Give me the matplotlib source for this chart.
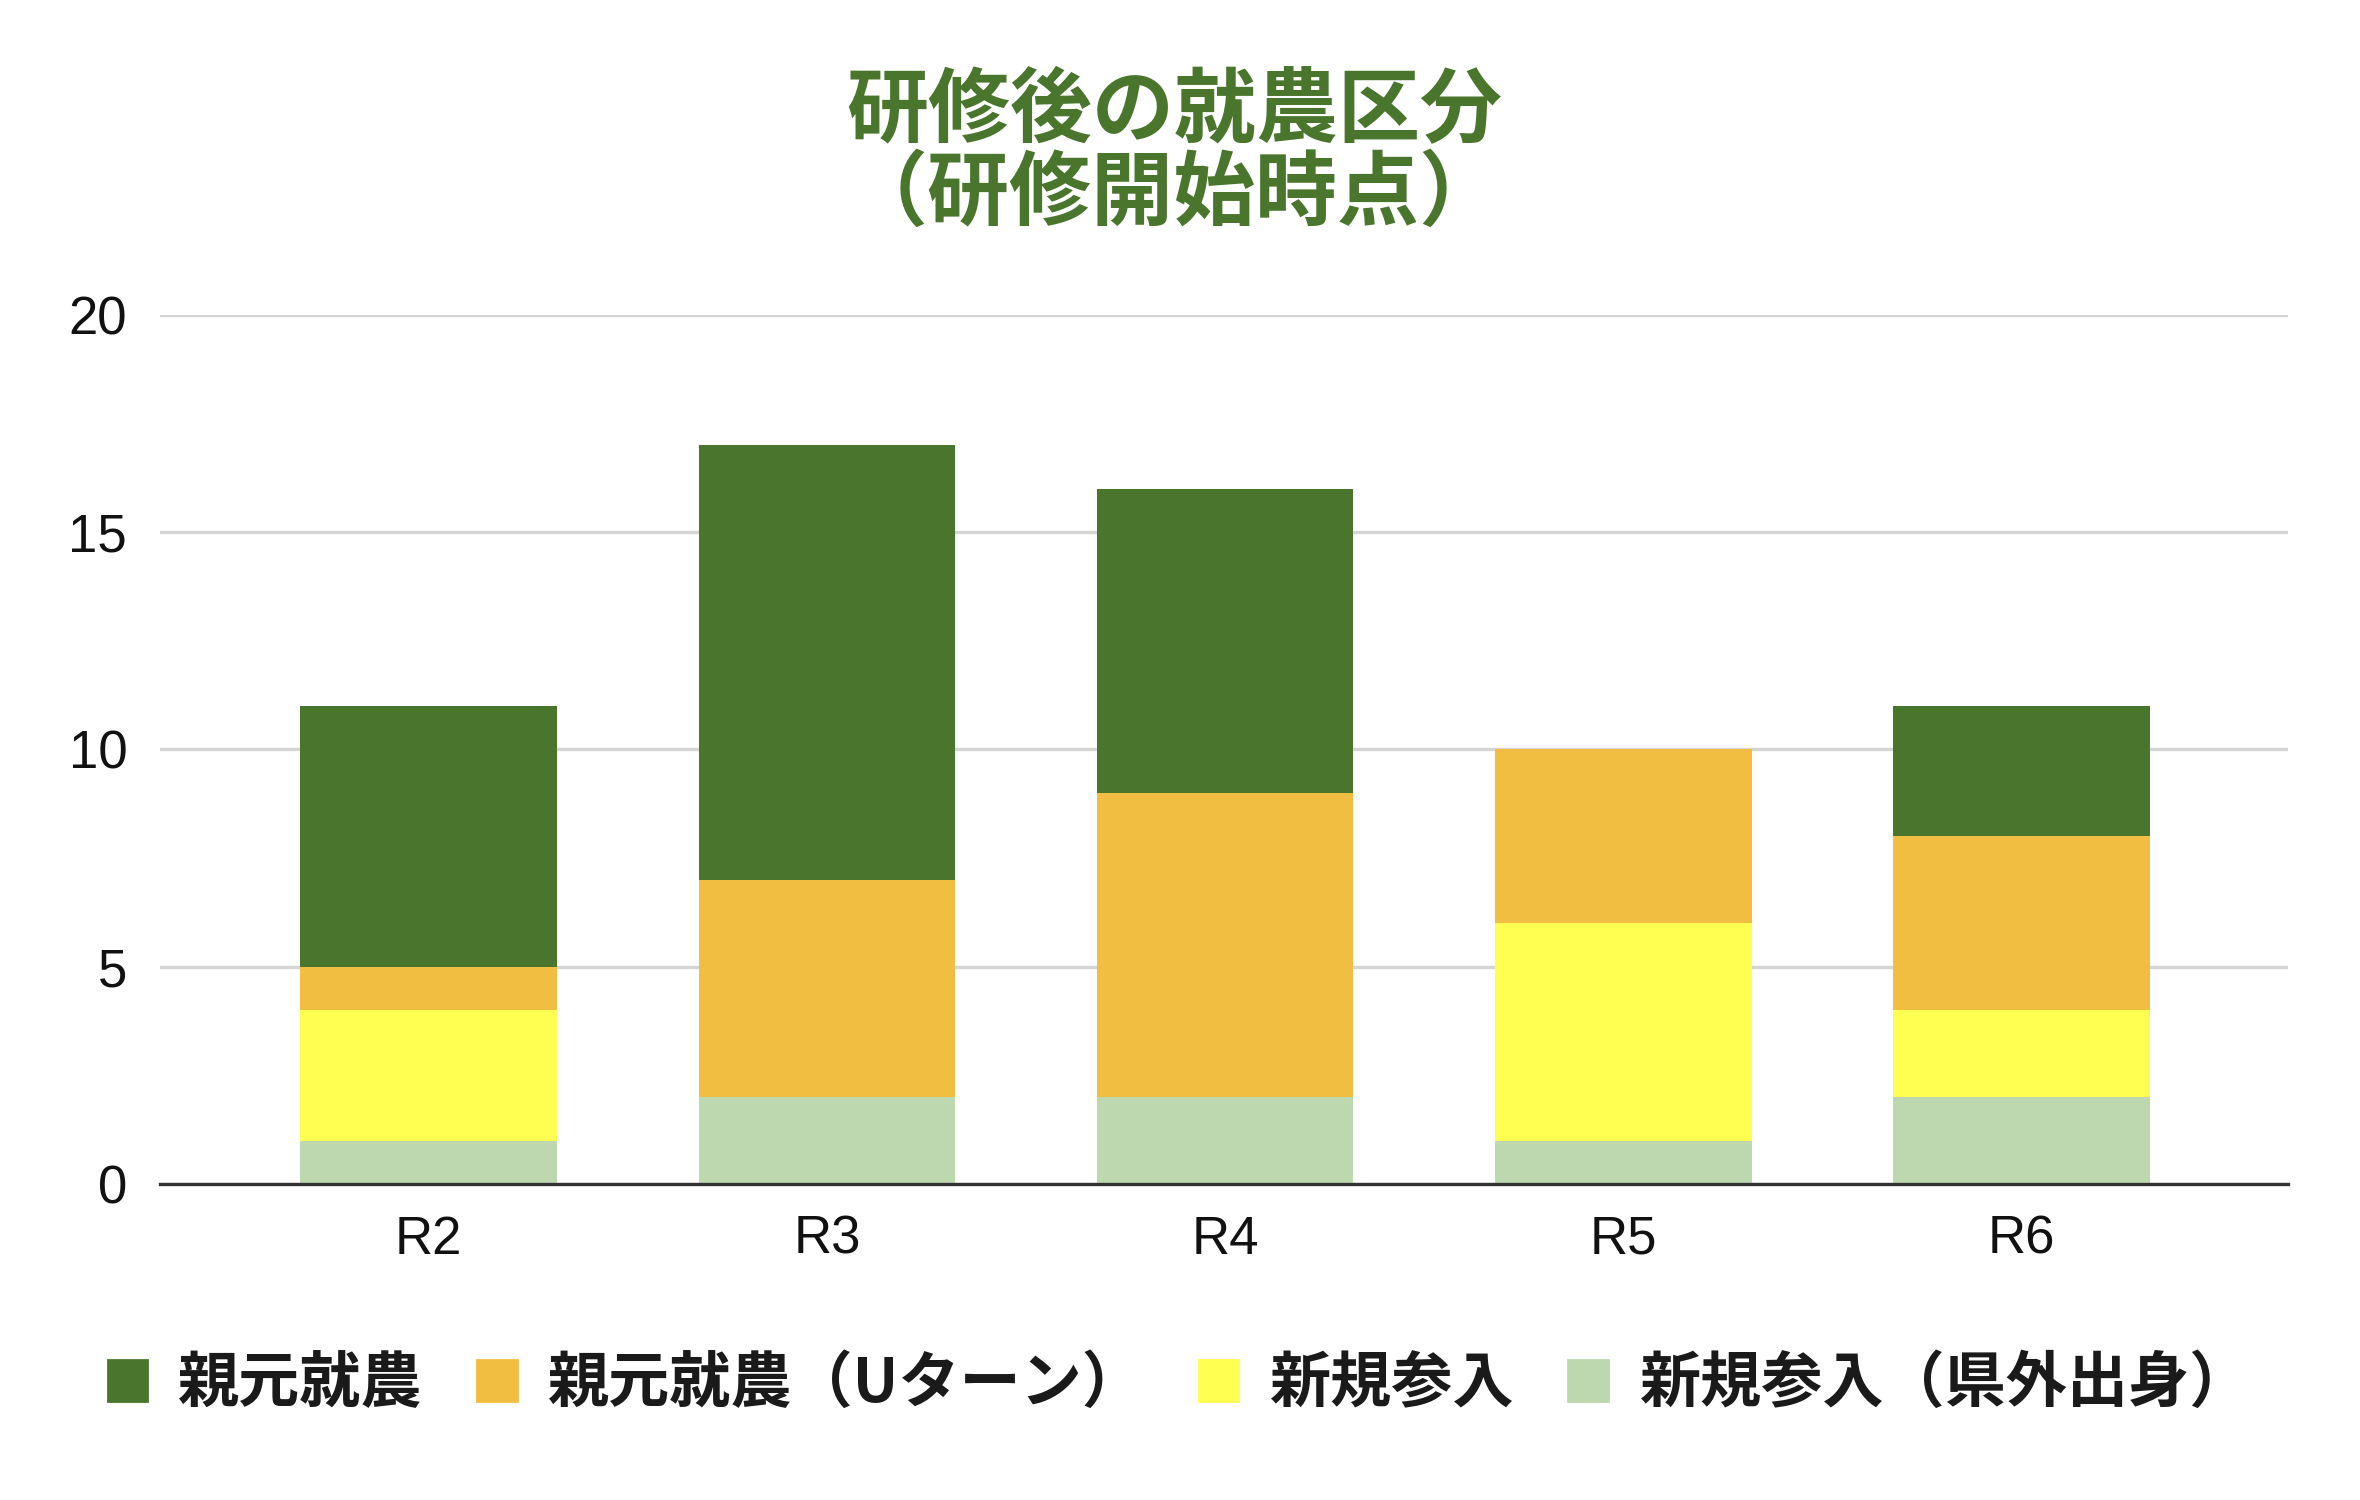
import matplotlib
matplotlib.use('Agg')
import matplotlib.pyplot as plt

plt.rcParams['font.family'] = ['Noto Sans CJK JP', 'DejaVu Sans']

years = ['R2', 'R3', 'R4', 'R5', 'R6']
kengai = [1, 2, 2, 1, 2]      # 新規参入（県外出身）
shinki = [3, 0, 0, 5, 2]      # 新規参入
uturn = [1, 5, 7, 4, 4]       # 親元就農（Uターン）
oyamoto = [6, 10, 7, 0, 3]    # 親元就農

labels = ['親元就農', '親元就農（Uターン）', '新規参入', '新規参入（県外出身）']
colors = ['#4a752c', '#f1be41', '#ffff52', '#bdd7ae']

fig = plt.figure(figsize=(11.8, 7.5), dpi=200)
ax = fig.add_axes([0.068, 0.2107, 0.9015, 0.5793])

x = list(range(len(years)))
w = 0.645
b1 = kengai
b2 = [a + b for a, b in zip(b1, shinki)]
b3 = [a + b for a, b in zip(b2, uturn)]

ax.bar(x, kengai, w, color=colors[3], zorder=3)
ax.bar(x, shinki, w, bottom=b1, color=colors[2], zorder=3)
ax.bar(x, uturn, w, bottom=b2, color=colors[1], zorder=3)
ax.bar(x, oyamoto, w, bottom=b3, color=colors[0], zorder=3)

ax.set_xlim(-0.674, 4.67)
ax.set_ylim(0, 20)
ax.set_yticks([0, 5, 10, 15, 20])
ax.grid(axis='y', color='#d5d5d5', linewidth=1.2, zorder=0)
for s in ['top', 'right', 'left']:
    ax.spines[s].set_visible(False)
ax.spines['bottom'].set_color('#333333')
ax.spines['bottom'].set_linewidth(1.2)
ax.spines['bottom'].set_zorder(4)
ax.tick_params(length=0, labelsize=19, colors='#111111')
ax.tick_params(axis='y', pad=12)
ax.tick_params(axis='x', pad=11)
ax.set_xticks(x)
ax.set_xticklabels(years)
for t in ax.get_xticklabels() + ax.get_yticklabels():
    t.set_fontfamily(['Liberation Sans', 'DejaVu Sans'])

fig.text(0.4975, 0.925, '研修後の就農区分', ha='center', va='center',
         fontsize=29.5, fontweight='bold', color='#4a752c')
fig.text(0.4975, 0.870, '（研修開始時点）', ha='center', va='center',
         fontsize=29.5, fontweight='bold', color='#4a752c')

handles = [plt.Rectangle((0, 0), 1, 1, color=c) for c in colors]
leg = fig.legend(handles, labels, loc='center', bbox_to_anchor=(0.4995, 0.077),
                 ncol=4, frameon=False, fontsize=22, handlelength=0.65,
                 handleheight=0.65, handletextpad=0.5, columnspacing=0.9)
for t in leg.get_texts():
    t.set_fontweight('bold')
    t.set_color('#1a1a1a')

fig.savefig('out.png', dpi=200)
